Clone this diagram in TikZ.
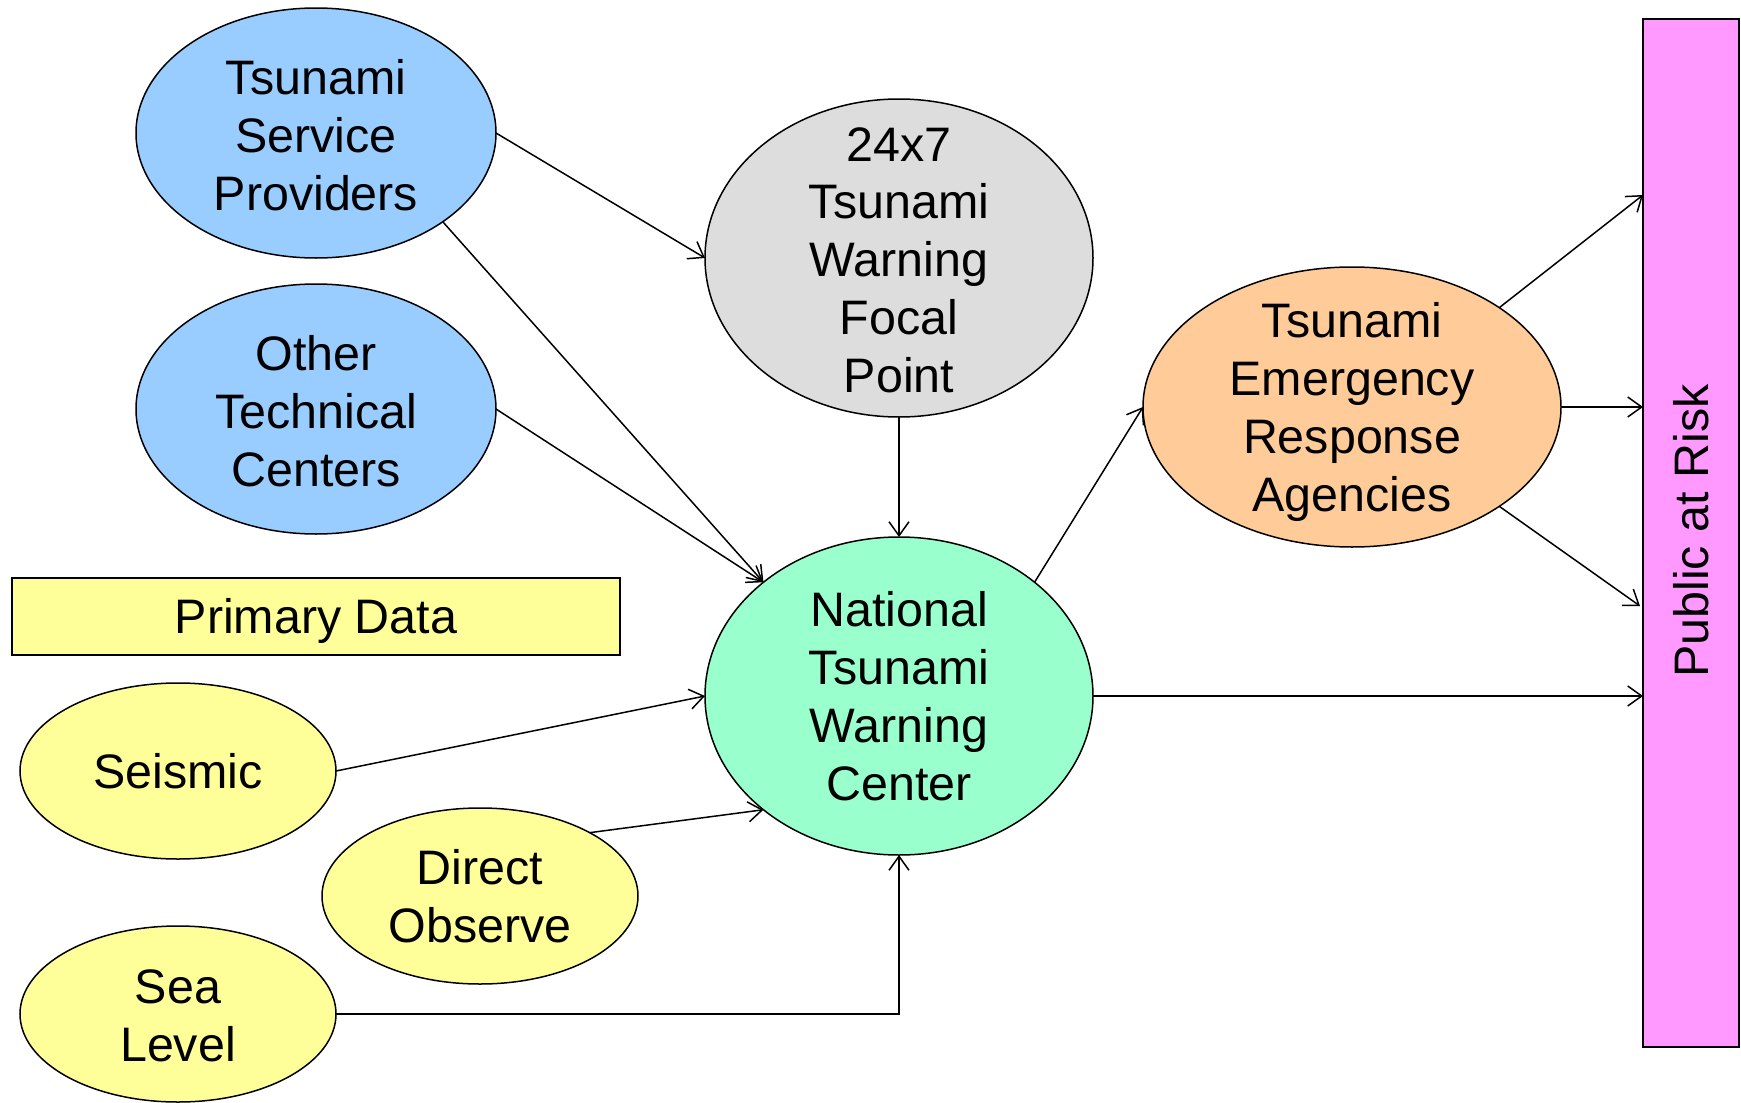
\documentclass[tikz,border=0pt]{standalone}
\usepackage{fontspec}
\setmainfont{Liberation Sans}
\usetikzlibrary{shapes.geometric,arrows.meta}
\definecolor{cblue}{HTML}{99CCFF}
\definecolor{cgray}{HTML}{DDDDDD}
\definecolor{cgreen}{HTML}{99FFCC}
\definecolor{corange}{HTML}{FFCC99}
\definecolor{cyellow}{HTML}{FFFF99}
\definecolor{cpink}{HTML}{FF99FF}
\begin{document}
\begin{tikzpicture}[x=0.5pt,y=-0.5pt,
  every label/.style={font=\fontsize{24.2}{28.9}\selectfont, align=center, inner sep=0pt},
  every node/.style={inner sep=0pt, outer sep=0pt},
  ell/.style={ellipse, draw, line width=0.75pt},
  bigell/.style={ell, minimum width=194pt, minimum height=159pt},
  blueell/.style={ell, fill=cblue, minimum width=180pt, minimum height=125pt},
  yell/.style={ell, fill=cyellow, minimum width=158pt, minimum height=88pt},
  box/.style={rectangle, draw, line width=1pt},
  conn/.style={-{Straight Barb[length=7pt,width=10pt]}, line width=0.75pt}]
\useasboundingbox (0,0) rectangle (1741,1103);

\node[blueell, label={[yshift=-1pt]center:{Tsunami\\Service\\Providers}}] (tsp) at (316,133) {};
\node[blueell, label={[yshift=-1pt]center:{Other\\Technical\\Centers}}] (otc) at (316,409) {};
\node[bigell, fill=cgray, label={[yshift=-1pt]center:{24x7\\Tsunami\\Warning\\Focal\\Point}}] (fp) at (899,258) {};
\node[bigell, fill=cgreen, label=center:{National\\Tsunami\\Warning\\Center}] (ntwc) at (899,696) {};
\node[box, fill=cyellow, minimum width=304pt, minimum height=38.5pt, label={[yshift=-2pt]center:{Primary Data}}] (pd) at (316,616.5) {};
\node[yell, label=center:{Seismic}] (seis) at (178,771) {};
\node[yell, label=center:{Direct\\Observe}] (dobs) at (480,896) {};
\node[yell, label={[yshift=-1pt]center:{Sea\\Level}}] (sea) at (178,1014) {};
\node[ell, fill=corange, minimum width=209pt, minimum height=140pt, label={[yshift=-2.5pt]center:{Tsunami\\Emergency\\Response\\Agencies}}] (era) at (1352,407) {};
\node[box, fill=cpink, minimum width=48pt, minimum height=514pt, label={[rotate=90,xshift=1pt]center:Public at Risk}] (par) at (1691,533) {};

\coordinate (p1) at (1643,195);
\coordinate (p3) at (1640,606);

\draw[conn] (tsp.east) -- (fp.west);
\draw[conn] (tsp.-35) -- (ntwc.140);
\draw[conn] (otc.east) -- (ntwc.140);
\draw[conn] (fp.south) -- (ntwc.north);
\draw[conn] (seis.east) -- (ntwc.west);
\draw[conn] (dobs.30) -- (ntwc.220);
\draw[conn] (sea.east) -| (ntwc.south);
\draw[conn] (ntwc.40) -- (era.west);
\draw[conn] (ntwc.east) -- (ntwc.east -| par.west);
\draw[conn] (era.34) -- (p1);
\draw[conn] (era.east) -- (era.east -| par.west);
\draw[conn] (era.-34) -- (p3);
\end{tikzpicture}
\end{document}
